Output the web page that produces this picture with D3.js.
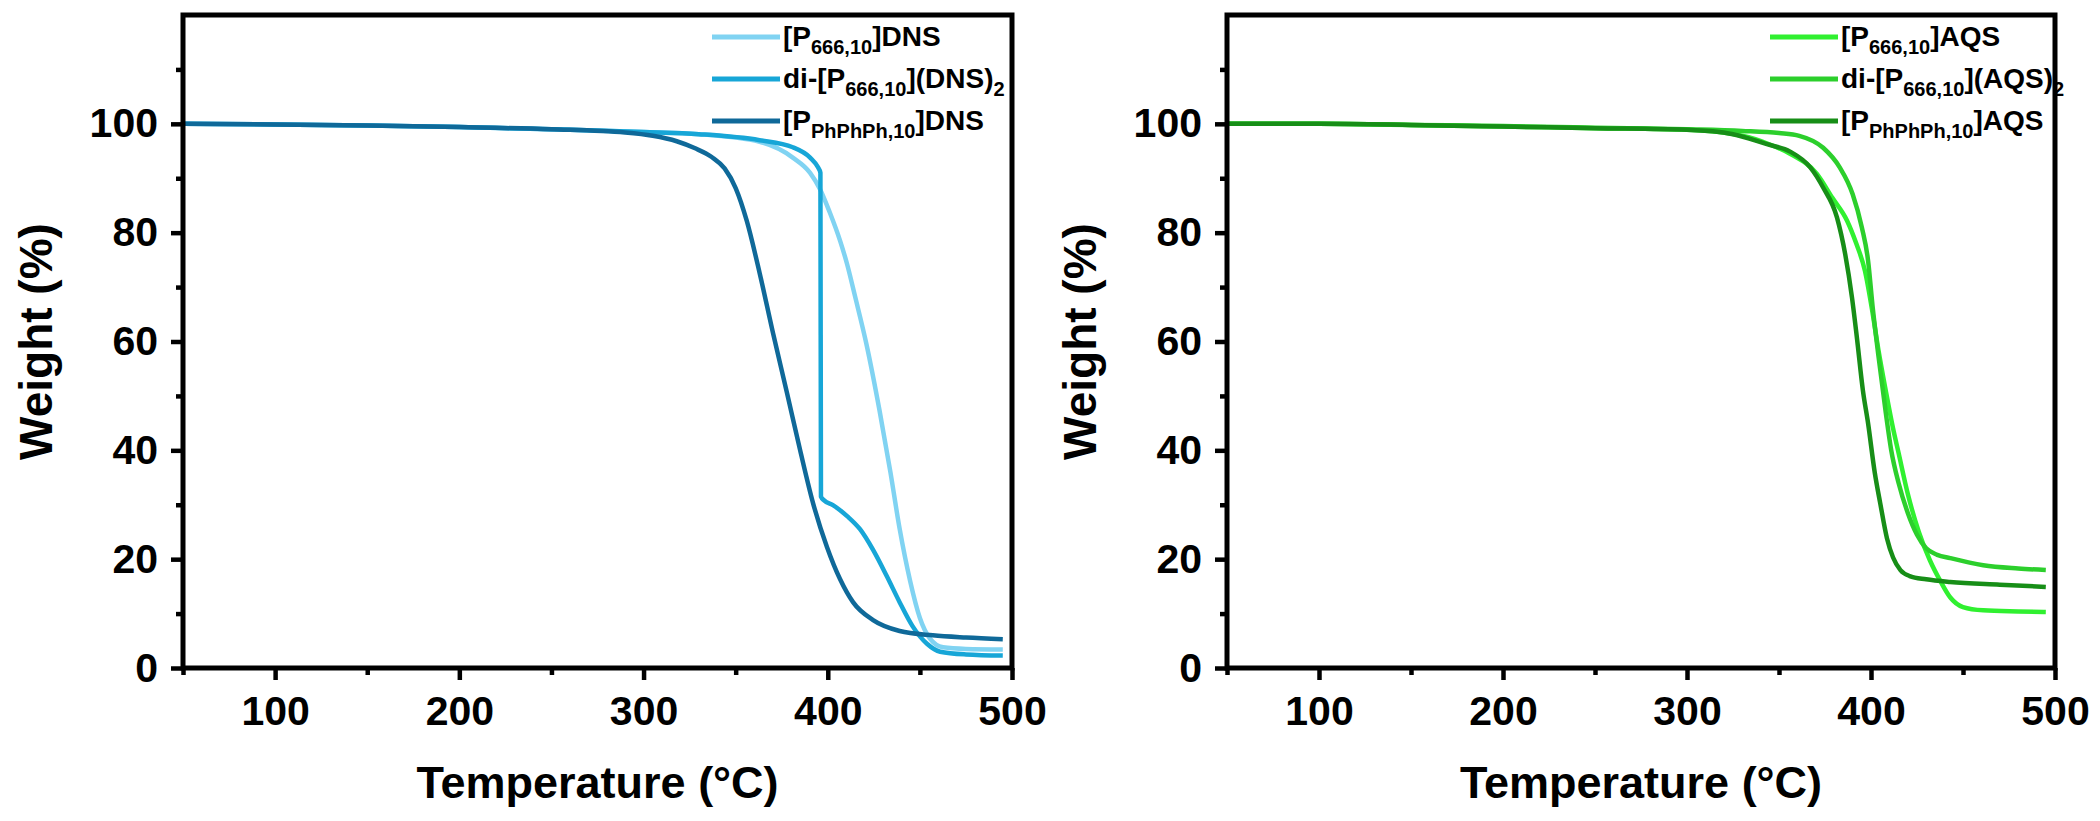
<!DOCTYPE html>
<html>
<head>
<meta charset="utf-8">
<script src="https://cdn.jsdelivr.net/npm/d3@7"></script>
<style>
  body { margin: 0; background: #fff; }
  text { font-family: Arial, "Liberation Sans", sans-serif; font-weight: bold; fill: #000; }
</style>
</head>
<body>
<script>
// TGA curves, [temperature °C, weight %]
const dnsP666 = [[50,100],[100,99.9],[150,99.7],[200,99.4],[250,99.0],[300,98.5],[330,98.1],[363,96.7],[381,93.8],[390.4,91],[395.8,88],[401,83.8],[406.7,78.5],[410.5,74.2],[414.8,68.3],[421,59.5],[428,47.5],[434,36],[439,25.6],[444.7,16],[450,9.2],[455.5,5.4],[462.6,3.8],[475,3.5],[495,3.4]];
const dnsDi = [[50,100],[100,99.9],[150,99.7],[200,99.4],[250,99.0],[300,98.5],[330,98.1],[363,97.0],[381,95.7],[390.4,93.8],[394.7,92],[396,91],[396.3,31.5],[398,30.8],[403,29.9],[410.5,27.9],[417.5,25.5],[424.6,21.7],[432,16.9],[439,12.1],[446,7.7],[454,4.4],[461,3.0],[475,2.5],[495,2.3]];
const dnsPh = [[50,100],[100,99.9],[150,99.7],[200,99.4],[250,99.0],[290,98.4],[305,97.8],[318,96.8],[328,95.5],[337,93.9],[344,91.8],[350,88.2],[356,82.2],[363,72.6],[370.3,61.5],[377.9,50.5],[385,40],[392,30.3],[399.6,22.2],[406.7,16.3],[413.7,12.1],[424.6,8.8],[439,6.8],[457,6.0],[475,5.6],[495,5.3]];

const aqsP666 = [[50,100],[100,100],[150,99.8],[200,99.5],[250,99.2],[300,98.9],[330,97.8],[345,96.2],[356,94.5],[370.6,90.8],[379,86.4],[387,82.2],[392,78],[396.7,73],[400.5,66],[404,58.5],[408,51],[412,44],[415,39.5],[420,32],[426,25],[432,19.8],[437.5,16.1],[443,13],[450,11.2],[461,10.6],[480,10.4],[495,10.3]];
const aqsDi = [[50,100],[100,100],[150,99.8],[200,99.6],[250,99.3],[300,99.0],[330,98.7],[350,98.3],[361,97.8],[374,95.6],[383,92],[390,87.1],[395,81],[398.4,74.9],[401,66],[404,57.5],[408,47],[411,40],[415,34],[420,28.5],[425,24.5],[430,22],[436,20.8],[443,20.2],[461,18.9],[480,18.3],[495,18]];
const aqsPh = [[50,100],[100,100],[150,99.8],[200,99.5],[250,99.2],[300,98.9],[325,98.1],[343,96.3],[356,94.9],[367,92],[374,88.3],[381.5,82.8],[386,76],[389.7,68],[392.4,60.5],[395.6,51],[398.4,45],[402,36],[405,30.3],[408.7,23.8],[412,20.3],[416,18],[421,16.9],[430,16.3],[443,15.8],[470,15.3],[495,14.9]];

const xTicks = [100, 200, 300, 400, 500];
const xMinor = [50, 150, 250, 350, 450];
const yTicks = [0, 20, 40, 60, 80, 100];
const yMinor = [10, 30, 50, 70, 90, 110];

// legend labels: [before sub, sub, after sub, sub2]
const dnsLabels = [["[P", "666,10", "]DNS", ""], ["di-[P", "666,10", "](DNS)", "2"], ["[P", "PhPhPh,10", "]DNS", ""]];
const aqsLabels = [["[P", "666,10", "]AQS", ""], ["di-[P", "666,10", "](AQS)", "2"], ["[P", "PhPhPh,10", "]AQS", ""]];

const blues = ["#80d3f2", "#17a6d7", "#0f6999"];
const greens = ["#30f030", "#2ccf2c", "#178e17"];

const svg = d3.select("body").append("svg")
    .attr("width", 2100)
    .attr("height", 821);

const plotTop = 15, plotBottom = 668;

function drawPanel(left, right, series, colors, labels, legendX) {
  const x = d3.scaleLinear().domain([50, 500]).range([left, right]);
  const y = d3.scaleLinear().domain([0, 120]).range([plotBottom, plotTop]);

  const line = d3.line()
      .x(d => x(d[0]))
      .y(d => y(d[1]))
      .curve(d3.curveMonotoneX);

  series.forEach((s, i) => {
    svg.append("path")
        .datum(s)
        .attr("fill", "none")
        .attr("stroke", colors[i])
        .attr("stroke-width", 4.5)
        .attr("stroke-linejoin", "round")
        .attr("d", line);
  });

  // axes
  const xAxis = svg.append("g")
      .attr("transform", "translate(0," + plotBottom + ")")
      .call(d3.axisBottom(x).tickValues(xTicks).tickSize(12).tickPadding(16).tickFormat(d3.format("d")));
  const xMin = svg.append("g")
      .attr("transform", "translate(0," + plotBottom + ")")
      .call(d3.axisBottom(x).tickValues(xMinor).tickSize(7).tickFormat(""));
  const yAxis = svg.append("g")
      .attr("transform", "translate(" + left + ",0)")
      .call(d3.axisLeft(y).tickValues(yTicks).tickSize(12).tickPadding(13));
  const yMin = svg.append("g")
      .attr("transform", "translate(" + left + ",0)")
      .call(d3.axisLeft(y).tickValues(yMinor).tickSize(7).tickFormat(""));

  [xAxis, xMin, yAxis, yMin].forEach(g => {
    g.select(".domain").remove();
    g.selectAll(".tick line").attr("stroke", "#000").attr("stroke-width", 4.5);
    g.selectAll(".tick text")
        .attr("font-size", 41)
        .attr("font-family", "Arial, 'Liberation Sans', sans-serif")
        .attr("font-weight", "bold")
        .attr("fill", "#000");
  });

  svg.append("rect")
      .attr("x", left)
      .attr("y", plotTop)
      .attr("width", right - left)
      .attr("height", plotBottom - plotTop)
      .attr("fill", "none")
      .attr("stroke", "#000")
      .attr("stroke-width", 5);

  // axis titles
  svg.append("text")
      .attr("x", (left + right) / 2)
      .attr("y", 798)
      .attr("text-anchor", "middle")
      .attr("font-size", 45)
      .text("Temperature (°C)");

  svg.append("text")
      .attr("transform", "translate(" + (left - 131) + "," + ((plotTop + plotBottom) / 2) + ") rotate(-90)")
      .attr("text-anchor", "middle")
      .attr("font-size", 46)
      .text("Weight (%)");

  // legend
  labels.forEach((lab, i) => {
    const ly = 37 + i * 42;
    svg.append("line")
        .attr("x1", legendX).attr("x2", legendX + 68)
        .attr("y1", ly).attr("y2", ly)
        .attr("stroke", colors[i])
        .attr("stroke-width", 5);
    const t = svg.append("text")
        .attr("x", legendX + 71)
        .attr("y", ly + 9)
        .attr("font-size", 28);
    t.append("tspan").text(lab[0]);
    t.append("tspan").attr("font-size", 20).attr("dy", 8).text(lab[1]);
    t.append("tspan").attr("dy", -8).text(lab[2]);
    if (lab[3]) t.append("tspan").attr("font-size", 20).attr("dy", 8).text(lab[3]);
  });
}

drawPanel(183, 1012, [dnsP666, dnsDi, dnsPh], blues, dnsLabels, 712);
drawPanel(1227, 2055, [aqsP666, aqsDi, aqsPh], greens, aqsLabels, 1770);
</script>
</body>
</html>
